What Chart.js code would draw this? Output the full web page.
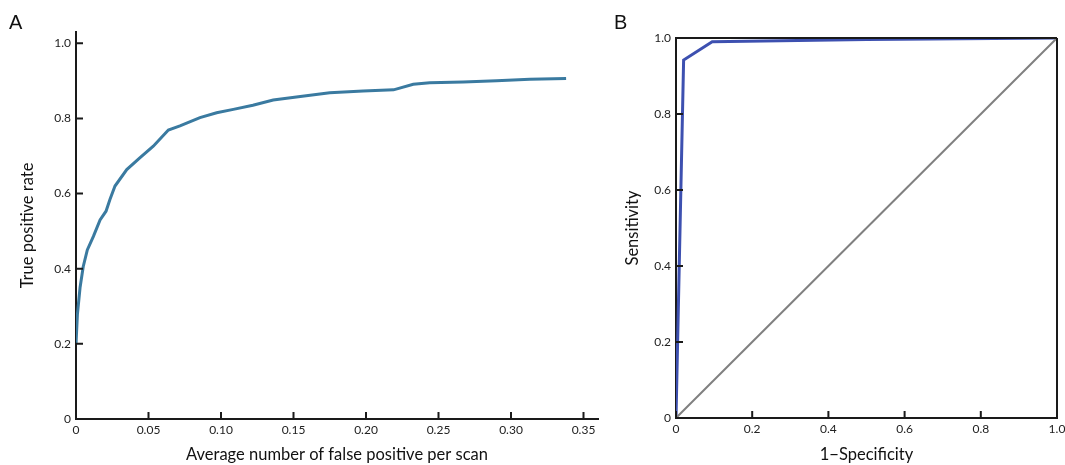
<!DOCTYPE html>
<html>
<head>
<meta charset="utf-8">
<script src="https://cdn.jsdelivr.net/npm/chart.js@4.4.1/dist/chart.umd.min.js"></script>
<style>
    body { margin: 0; background: #fff; }
    #wrap { position: relative; width: 1065px; height: 465px; }
    .panel { position: absolute; top: 0; height: 465px; }
    #panel-a { left: 0; width: 600px; }
    #panel-b { left: 600px; width: 465px; }
    .tag { position: absolute; top: 11px; font: 20px "Liberation Sans", Arial, sans-serif; color: #111; line-height: 23px; }
</style>
</head>
<body>
<div id="wrap">
    <div class="panel" id="panel-a"><canvas id="chart-a"></canvas></div>
    <div class="panel" id="panel-b"><canvas id="chart-b"></canvas></div>
    <div class="tag" style="left:9px">A</div>
    <div class="tag" style="left:614px">B</div>
</div>
<script>
/* ---- Painel A: FROC ---- */
const fpA  = [0, 0.001, 0.0028, 0.005, 0.0078, 0.012, 0.0166, 0.0207, 0.0234, 0.0269, 0.035, 0.044, 0.0533, 0.0637, 0.0717,
              0.0855, 0.097, 0.1085, 0.122, 0.136, 0.152, 0.175, 0.198, 0.219, 0.2326, 0.244, 0.267, 0.29, 0.313, 0.338];
const tprA = [0.20, 0.28, 0.35, 0.406, 0.45, 0.486, 0.53, 0.553, 0.584, 0.62, 0.664, 0.695, 0.726, 0.769, 0.78,
              0.802, 0.815, 0.824, 0.835, 0.849, 0.857, 0.868, 0.873, 0.876, 0.891, 0.895, 0.897, 0.9, 0.904, 0.906];
const xTicksA  = [0, 0.05, 0.10, 0.15, 0.20, 0.25, 0.30, 0.35];
const xLabelsA = ['0', '0.05', '0.10', '0.15', '0.20', '0.25', '0.30', '0.35'];
const yTicksA  = [0, 0.2, 0.4, 0.6, 0.8, 1.0];
const yLabelsA = ['0', '0.2', '0.4', '0.6', '0.8', '1.0'];

/* ---- Painel B: ROC ---- */
const fprB = [0, 0.02, 0.095, 0.5, 1];
const senB = [0, 0.942, 0.99, 0.996, 1];
const diagX = [0, 1];
const diagY = [0, 1];
const xTicksB  = [0, 0.2, 0.4, 0.6, 0.8, 1.0];
const xLabelsB = ['0', '0.2', '0.4', '0.6', '0.8', '1.0'];
const yTicksB  = [0, 0.2, 0.4, 0.6, 0.8, 1.0];
const yLabelsB = ['0', '0.2', '0.4', '0.6', '0.8', '1.0'];

const FONT = 'Lato, "Open Sans", sans-serif';
Chart.defaults.font.family = FONT;

const pts = (xs, ys) => xs.map((x, i) => ({ x, y: ys[i] }));

// tick marks drawn inward + optional closed frame
const insideTicks = {
    id: 'insideTicks',
    afterDraw(chart, args, o) {
        const { ctx, chartArea: a, scales: { x, y } } = chart;
        ctx.save();
        ctx.strokeStyle = o.color;
        ctx.lineWidth = o.width;
        ctx.beginPath();
        x.ticks.forEach(t => { const px = x.getPixelForValue(t.value); ctx.moveTo(px, a.bottom); ctx.lineTo(px, a.bottom - o.len); });
        y.ticks.forEach(t => { const py = y.getPixelForValue(t.value); ctx.moveTo(a.left, py); ctx.lineTo(a.left + o.len, py); });
        if (o.frame) {
            ctx.moveTo(a.left, a.top); ctx.lineTo(a.right, a.top);
            ctx.moveTo(a.right, a.top); ctx.lineTo(a.right, a.bottom);
        }
        ctx.stroke();
        ctx.restore();
    }
};

function axis(p) {
    return {
        type: 'linear', min: p.min, max: p.max,
        grid: { display: false, drawTicks: false },
        border: { display: true, color: '#1a1a1a', width: 2 },
        ticks: { color: '#222', font: { size: 12 }, padding: p.pad, autoSkip: false, maxRotation: 0, includeBounds: false,
                 callback: (v, i) => p.labels[i] },
        afterBuildTicks: s => { s.ticks = p.ticks.map(v => ({ value: v })); },
        afterFit: p.fit,
        title: { display: true, text: p.title, color: '#111', font: { size: 16.5 }, padding: p.titlePad }
    };
}

function makeOptions(p) {
    return {
        responsive: true, maintainAspectRatio: false, animation: false,
        layout: { autoPadding: false, padding: { top: p.top, right: p.right, left: 0, bottom: 0 } },
        elements: { point: { radius: 0 } },
        plugins: { legend: { display: false }, tooltip: { enabled: false }, insideTicks: { len: 7, color: '#1a1a1a', width: 2, frame: p.frame } },
        scales: {
            x: axis({ min: 0, max: p.xMax, ticks: p.xTicks, labels: p.xLabels, pad: 4, title: p.xTitle,
                      titlePad: { top: 0, bottom: 0 },
                      fit: s => { s.height = p.xHeight; s.paddingLeft = 0; s.paddingRight = 0; } }),
            y: axis({ min: 0, max: p.yMax, ticks: p.yTicks, labels: p.yLabels, pad: 5, title: p.yTitle,
                      titlePad: { top: p.yTitleOff, bottom: 0 },
                      fit: s => { s.width = 76; s.paddingTop = 0; s.paddingBottom = 0; } })
        }
    };
}

new Chart(document.getElementById('chart-a'), {
    type: 'line',
    data: { datasets: [
        { data: pts(fpA, tprA), borderColor: '#3a7aa0', borderWidth: 3, tension: 0 }
    ] },
    options: makeOptions({ top: 32, right: 2, xHeight: 46, xMax: 0.36, yMax: 1.03, frame: false,
        xTicks: xTicksA, xLabels: xLabelsA, yTicks: yTicksA, yLabels: yLabelsA, yTitleOff: 18,
        xTitle: 'Average number of false positive per scan', yTitle: 'True positive rate' }),
    plugins: [insideTicks]
});

new Chart(document.getElementById('chart-b'), {
    type: 'line',
    data: { datasets: [
        { data: pts(diagX, diagY), borderColor: '#808080', borderWidth: 2 },
        { data: pts(fprB, senB), borderColor: '#3d50b0', borderWidth: 3 }
    ] },
    options: makeOptions({ top: 38, right: 8, xHeight: 47, xMax: 1, yMax: 1, frame: true,
        xTicks: xTicksB, xLabels: xLabelsB, yTicks: yTicksB, yLabels: yLabelsB, yTitleOff: 23,
        xTitle: '1\u2212Specificity', yTitle: 'Sensitivity' }),
    plugins: [insideTicks]
});
</script>
</body>
</html>
